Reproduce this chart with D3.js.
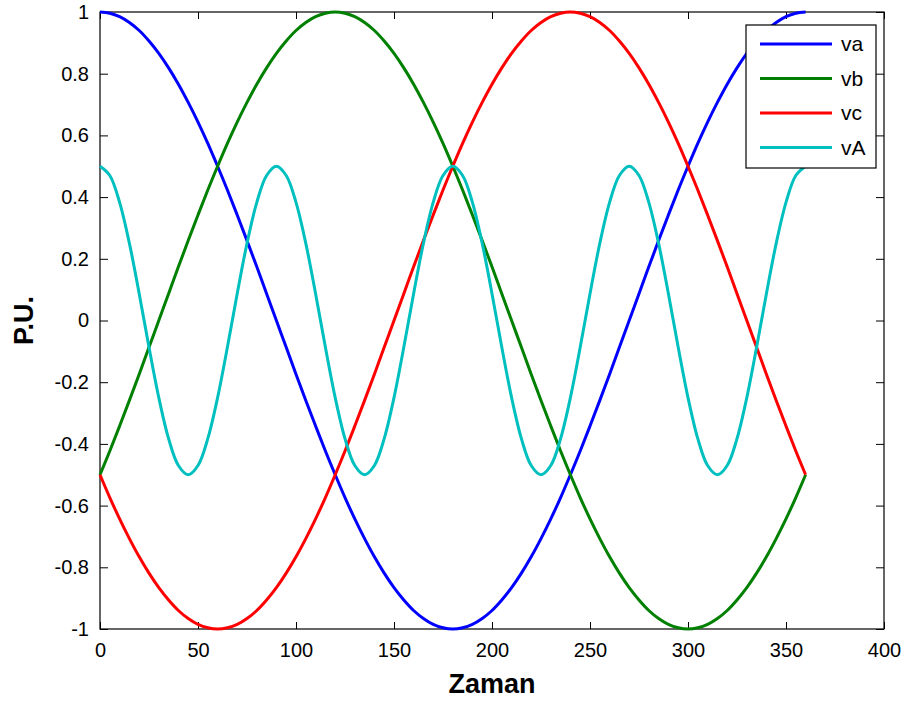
<!DOCTYPE html>
<html>
<head>
<meta charset="utf-8">
<script src="https://cdn.jsdelivr.net/npm/d3@7"></script>
<style>
  body { margin: 0; background: #fff; }
  text { font-family: "Liberation Sans", Arial, sans-serif; }
</style>
</head>
<body>
<script>
// angle in degrees, one sample every 5
var zaman = [0,5,10,15,20,25,30,35,40,45,50,55,60,65,70,75,80,85,90,95,100,105,110,115,120,125,130,135,140,145,150,155,160,165,170,175,180,
  185,190,195,200,205,210,215,220,225,230,235,240,245,250,255,260,265,270,275,280,285,290,295,300,305,310,315,320,325,330,335,340,345,350,355,360];

var va = [1.000,0.996,0.985,0.966,0.940,0.906,0.866,0.819,0.766,0.707,0.643,0.574,0.500,0.423,0.342,0.259,0.174,0.087,0.000,
  -0.087,-0.174,-0.259,-0.342,-0.423,-0.500,-0.574,-0.643,-0.707,-0.766,-0.819,-0.866,-0.906,-0.940,-0.966,-0.985,-0.996,-1.000,
  -0.996,-0.985,-0.966,-0.940,-0.906,-0.866,-0.819,-0.766,-0.707,-0.643,-0.574,-0.500,-0.423,-0.342,-0.259,-0.174,-0.087,0.000,
  0.087,0.174,0.259,0.342,0.423,0.500,0.574,0.643,0.707,0.766,0.819,0.866,0.906,0.940,0.966,0.985,0.996,1.000];

var vb = [-0.500,-0.423,-0.342,-0.259,-0.174,-0.087,0.000,0.087,0.174,0.259,0.342,0.423,0.500,0.574,0.643,0.707,0.766,0.819,0.866,
  0.906,0.940,0.966,0.985,0.996,1.000,0.996,0.985,0.966,0.940,0.906,0.866,0.819,0.766,0.707,0.643,0.574,0.500,
  0.423,0.342,0.259,0.174,0.087,0.000,-0.087,-0.174,-0.259,-0.342,-0.423,-0.500,-0.574,-0.643,-0.707,-0.766,-0.819,-0.866,
  -0.906,-0.940,-0.966,-0.985,-0.996,-1.000,-0.996,-0.985,-0.966,-0.940,-0.906,-0.866,-0.819,-0.766,-0.707,-0.643,-0.574,-0.500];

var vc = [-0.500,-0.574,-0.643,-0.707,-0.766,-0.819,-0.866,-0.906,-0.940,-0.966,-0.985,-0.996,-1.000,-0.996,-0.985,-0.966,-0.940,-0.906,-0.866,
  -0.819,-0.766,-0.707,-0.643,-0.574,-0.500,-0.423,-0.342,-0.259,-0.174,-0.087,0.000,0.087,0.174,0.259,0.342,0.423,0.500,
  0.574,0.643,0.707,0.766,0.819,0.866,0.906,0.940,0.966,0.985,0.996,1.000,0.996,0.985,0.966,0.940,0.906,0.866,
  0.819,0.766,0.707,0.643,0.574,0.500,0.423,0.342,0.259,0.174,0.087,0.000,-0.087,-0.174,-0.259,-0.342,-0.423,-0.500];

var vA = [0.500,0.470,0.383,0.250,0.087,-0.087,-0.250,-0.383,-0.470,-0.500,-0.470,-0.383,-0.250,-0.087,0.087,0.250,0.383,0.470,
  0.500,0.470,0.383,0.250,0.087,-0.087,-0.250,-0.383,-0.470,-0.500,-0.470,-0.383,-0.250,-0.087,0.087,0.250,0.383,0.470,
  0.500,0.470,0.383,0.250,0.087,-0.087,-0.250,-0.383,-0.470,-0.500,-0.470,-0.383,-0.250,-0.087,0.087,0.250,0.383,0.470,
  0.500,0.470,0.383,0.250,0.087,-0.087,-0.250,-0.383,-0.470,-0.500,-0.470,-0.383,-0.250,-0.087,0.087,0.250,0.383,0.470,
  0.500];

var names = ["va", "vb", "vc", "vA"];
var colors = ["#0000ff", "#008000", "#ff0000", "#00bfbf"];
var series = [va, vb, vc, vA];

var xTicks = [0, 50, 100, 150, 200, 250, 300, 350, 400];
var yTicks = [-1, -0.8, -0.6, -0.4, -0.2, 0, 0.2, 0.4, 0.6, 0.8, 1];

var w = 909, h = 704;
var boxL = 100, boxR = 884, boxT = 12, boxB = 629; //plot box

var svg = d3.select("body").append("svg")
  .attr("width", w)
  .attr("height", h);

var x = d3.scaleLinear().domain([0, 400]).range([boxL, boxR]);
var y = d3.scaleLinear().domain([-1, 1]).range([boxB, boxT]);

function styleAxis(g) {
  g.select(".domain").remove();
  g.selectAll("line").attr("stroke", "#000");
  g.selectAll("text")
    .attr("font-family", "'Liberation Sans', Arial, sans-serif")
    .attr("font-size", "20px")
    .attr("fill", "#000");
}

// ticks point inwards on all four sides
svg.append("g")
  .attr("transform", "translate(0," + boxB + ")")
  .call(d3.axisBottom(x).tickValues(xTicks).tickSize(-7).tickSizeOuter(0).tickPadding(14).tickFormat(function(d) { return String(d); }))
  .call(styleAxis);
svg.append("g")
  .attr("transform", "translate(0," + boxT + ")")
  .call(d3.axisTop(x).tickValues(xTicks).tickSize(-7).tickSizeOuter(0).tickFormat(""))
  .call(styleAxis);
svg.append("g")
  .attr("transform", "translate(" + boxL + ",0)")
  .call(d3.axisLeft(y).tickValues(yTicks).tickSize(-8).tickSizeOuter(0).tickPadding(11).tickFormat(function(d) { return String(d); }))
  .call(styleAxis);
svg.append("g")
  .attr("transform", "translate(" + boxR + ",0)")
  .call(d3.axisRight(y).tickValues(yTicks).tickSize(-8).tickSizeOuter(0).tickFormat(""))
  .call(styleAxis);

svg.append("rect")
  .attr("x", boxL)
  .attr("y", boxT)
  .attr("width", boxR - boxL)
  .attr("height", boxB - boxT)
  .attr("fill", "none")
  .attr("stroke", "#000")
  .attr("stroke-width", 1.2);

var line = d3.line()
  .x(function(d) { return x(d[0]); })
  .y(function(d) { return y(d[1]); })
  .curve(d3.curveCatmullRom.alpha(0.5));

svg.selectAll("path.curve")
  .data(series)
  .enter()
  .append("path")
  .attr("class", "curve")
  .attr("d", function(s) { return line(zaman.map(function(t, i) { return [t, s[i]]; })); })
  .attr("fill", "none")
  .attr("stroke", function(d, i) { return colors[i]; })
  .attr("stroke-width", 3)
  .attr("stroke-linejoin", "round");

// axis labels
svg.append("text")
  .text("Zaman")
  .attr("x", (boxL + boxR) / 2)
  .attr("y", 693)
  .attr("text-anchor", "middle")
  .attr("font-size", "27px")
  .attr("font-weight", "bold");

svg.append("text")
  .text("P.U.")
  .attr("transform", "translate(33," + (boxT + boxB) / 2 + ") rotate(-90)")
  .attr("text-anchor", "middle")
  .attr("font-size", "27px")
  .attr("font-weight", "bold");

// legend
var legend = svg.append("g");
legend.append("rect")
  .attr("x", 746)
  .attr("y", 25)
  .attr("width", 130)
  .attr("height", 143)
  .attr("fill", "#fff")
  .attr("stroke", "#000")
  .attr("stroke-width", 1.2);

var item = legend.selectAll("g.item")
  .data(names)
  .enter()
  .append("g")
  .attr("class", "item")
  .attr("transform", function(d, i) { return "translate(0," + (44 + i * 34.5) + ")"; });

item.append("line")
  .attr("x1", 760)
  .attr("x2", 832)
  .attr("stroke", function(d, i) { return colors[i]; })
  .attr("stroke-width", 3);

item.append("text")
  .text(function(d) { return d; })
  .attr("x", 841)
  .attr("dy", "0.35em")
  .attr("font-size", "21px");
</script>
</body>
</html>
